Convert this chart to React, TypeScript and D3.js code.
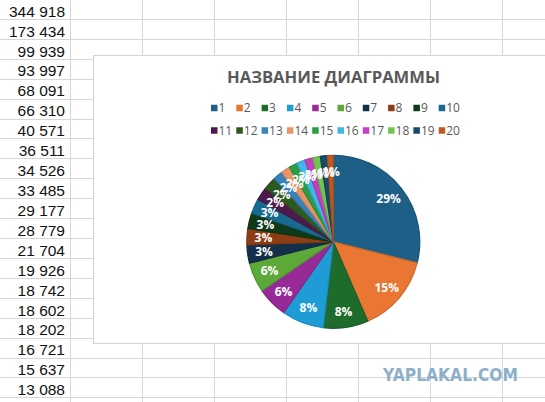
import React from "react";
import * as d3 from "d3";

const categories: string[] = ["1","2","3","4","5","6","7","8","9","10","11","12","13","14","15","16","17","18","19","20"];
const values: number[] = [344918,173434,99939,93997,68091,66310,40571,36511,34526,33485,29177,28779,21704,19926,18742,18602,18202,16721,15637,13088];
const colors: string[] = ["#1E5F87","#E97632","#1E6B2C","#1F9CD6","#982A97","#5CA93A","#12304A","#8C3D13","#0F3A1A","#186A8F","#4E1A4D","#2E5A21","#3583BA","#E99468","#2A9E42","#41B6E8","#C13FC0","#75C352","#184A6B","#C05A1F"];
const title = "НАЗВАНИЕ ДИАГРАММЫ";
const watermark = "YAPLAKAL.COM";

const W = 545, H = 402;
const rowH = 19.92;
const colLines = [70, 142, 214, 286, 358, 430, 502];
const chartBox = { x: 93.5, y: 55.5, w: 460, h: 288 };
const cx = 333.3, cy = 241.8, R = 86.5;

function fmt(n: number): string {
  return d3.format(",")(n).replace(/,/g, "\u00A0");
}

export default function App() {
  const pie = d3.pie<number>().sort(null).value((d) => d);
  const arcs = pie(values);
  const arcGen = d3.arc<d3.PieArcDatum<number>>().innerRadius(0).outerRadius(R);
  const labelArc = d3.arc<d3.PieArcDatum<number>>().innerRadius(R * 0.81).outerRadius(R * 0.81);
  const total = d3.sum(values);
  const pct = d3.format(".0%");

  const legendX = d3.scaleLinear().domain([0, 9]).range([211, 211 + 25.3 * 9]);
  const legendRows = [108, 130.5];

  const hLines = d3.range(1, 21).map((k) => Math.round(rowH * k) - 0.5);

  return (
    <svg width={W} height={H} style={{ position: "absolute", left: 0, top: 0, background: "#fff" }}>
      <rect x={0} y={0} width={W} height={H} fill="#fff" />
      {hLines.map((y, i) => (
        <line key={"h" + i} x1={0} x2={W} y1={y} y2={y} stroke="#D6D6D6" strokeWidth={1} />
      ))}
      {colLines.map((x, i) => (
        <line key={"v" + i} x1={x + 0.5} x2={x + 0.5} y1={0} y2={H} stroke="#D6D6D6" strokeWidth={1} />
      ))}
      {values.map((v, i) => (
        <text key={"c" + i} x={65} y={16.7 + rowH * i} textAnchor="end"
          fontFamily="'Liberation Sans', Arial, sans-serif" fontSize={15.5} fill="#111">
          {fmt(v)}
        </text>
      ))}
      <rect x={chartBox.x} y={chartBox.y} width={chartBox.w} height={chartBox.h} fill="#fff" stroke="#D4D4D4" strokeWidth={1} />
      <text x={333.5} y={83.3} textAnchor="middle" fontFamily="'Open Sans', sans-serif" fontWeight={700}
        fontSize={16.5} fill="#595959" textLength={213} lengthAdjust="spacingAndGlyphs">
        {title}
      </text>
      {categories.map((c, i) => {
        const row = Math.floor(i / 10);
        const col = i % 10;
        const x = legendX(col);
        const y = legendRows[row];
        return (
          <g key={"l" + i}>
            <rect x={x} y={y - 3.25} width={6.5} height={6.5} fill={colors[i]} />
            <text x={x + 7.5} y={y + 4.3} fontFamily="'Open Sans', sans-serif" fontSize={12} fill="#595959">
              {c}
            </text>
          </g>
        );
      })}
      <g transform={`translate(${cx},${cy})`}>
        {arcs.map((a, i) => (
          <path key={"p" + i} d={arcGen(a) || ""} fill={colors[i]}
            stroke={d3.color(colors[i])!.darker(0.35).formatHex()} strokeWidth={1.2} strokeLinejoin="round" />
        ))}
        {arcs.map((a, i) => {
          const [lx, ly] = labelArc.centroid(a);
          return (
            <text key={"t" + i} x={lx} y={ly} textAnchor="middle" dominantBaseline="central"
              fontFamily="'Open Sans', sans-serif" fontWeight={700} fontSize={12} fill="#fff">
              {pct(a.value / total)}
            </text>
          );
        })}
      </g>
      <text x={383} y={380.5} fontFamily="'DejaVu Sans', sans-serif" fontWeight={700} fontSize={17}
        fill="#8DB0C9" textLength={135} lengthAdjust="spacingAndGlyphs">
        {watermark}
      </text>
    </svg>
  );
}
